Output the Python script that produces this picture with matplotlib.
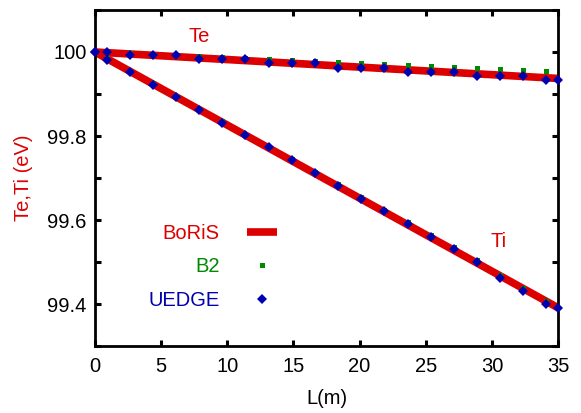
import matplotlib
matplotlib.use('Agg')
import matplotlib.pyplot as plt
from matplotlib.ticker import MultipleLocator, FuncFormatter

plt.rcParams['font.family'] = ['Liberation Sans', 'DejaVu Sans']

# データ
L = [0, 0.875, 2.625, 4.375, 6.125, 7.875, 9.625, 11.375, 13.125, 14.875, 16.625,
     18.375, 20.125, 21.875, 23.625, 25.375, 27.125, 28.875, 30.625, 32.375, 34.125, 35]
te_uedge = [100.0, 100.0, 99.993, 99.993, 99.993, 99.983, 99.983, 99.983, 99.973, 99.973, 99.973,
            99.963, 99.963, 99.963, 99.953, 99.953, 99.953, 99.942, 99.942, 99.942, 99.933, 99.933]
ti_uedge = [100.0, 99.982, 99.953, 99.922, 99.892, 99.862, 99.832, 99.803, 99.773, 99.742, 99.712,
            99.682, 99.651, 99.621, 99.591, 99.560, 99.530, 99.500, 99.461, 99.431, 99.401, 99.391]

L_b2 = L[:-1]
te_b2 = [100.0, 100.0, 99.997, 99.995, 99.993, 99.991, 99.989, 99.986, 99.984, 99.981, 99.979,
         99.977, 99.974, 99.972, 99.970, 99.967, 99.965, 99.962, 99.959, 99.957, 99.955]
ti_b2 = [100.0, 99.985, 99.955, 99.925, 99.895, 99.865, 99.835, 99.805, 99.775, 99.745, 99.715,
         99.685, 99.655, 99.625, 99.595, 99.565, 99.535, 99.505, 99.469, 99.439, 99.408]

L_boris = [0, 5, 10, 15, 20, 25, 30, 35]
te_boris = [100.0, 99.991, 99.982, 99.973, 99.964, 99.955, 99.946, 99.937]
ti_boris = [100.0, 99.913, 99.826, 99.739, 99.652, 99.565, 99.478, 99.391]

red = '#dd0000'
green = '#008a00'
blue = '#0000b0'
fs = 14.5

fig = plt.figure(figsize=(5.81, 4.13), dpi=100)
ax = fig.add_axes([0.1635, 0.1622, 0.797, 0.8136])

ax.plot(L_boris, te_boris, color=red, lw=5.5, solid_capstyle='butt', label='BoRiS', zorder=2)
ax.plot(L_boris, ti_boris, color=red, lw=5.5, solid_capstyle='butt', zorder=2)
ax.plot(L_b2, te_b2, 's', color=green, ms=3.6, mew=0, label='B2', zorder=3)
ax.plot(L_b2, ti_b2, 's', color=green, ms=3.6, mew=0, zorder=3)
ax.plot(L, te_uedge, 'D', color=blue, ms=4.8, mew=0, label='UEDGE', zorder=4, clip_on=False)
ax.plot(L, ti_uedge, 'D', color=blue, ms=4.8, mew=0, zorder=4, clip_on=False)

ax.text(7.9, 100.036, 'Te', color=red, fontsize=fs, ha='center', va='center')
ax.text(30.5, 99.548, 'Ti', color=red, fontsize=fs, ha='center', va='center')

ax.set_xlim(0, 35)
ax.set_ylim(99.3, 100.1)
ax.xaxis.set_major_locator(MultipleLocator(5))
ax.yaxis.set_major_locator(MultipleLocator(0.1))
ax.yaxis.set_major_formatter(FuncFormatter(
    lambda v, p: ('%g' % round(v, 1)) if abs(round(v * 10) % 2) < 0.5 and 99.35 < v < 100.05 else ''))

for s in ax.spines.values():
    s.set_linewidth(2)
ax.tick_params(direction='in', length=4, width=2.2, top=True, right=True, labelsize=fs)
ax.tick_params(axis='x', pad=8)
ax.tick_params(axis='y', pad=6)

ax.set_xlabel('L(m)', fontsize=fs, labelpad=9)
ax.set_ylabel('Te,Ti (eV)', fontsize=fs, color=red, labelpad=10)

leg = ax.legend(loc='upper right', bbox_to_anchor=(0.415, 0.394), frameon=False, markerfirst=False,
                fontsize=fs, labelcolor=[red, green, blue], handlelength=1.5, borderpad=0,
                labelspacing=0.72, handletextpad=1.35)

plt.savefig('out.png', dpi=100)
